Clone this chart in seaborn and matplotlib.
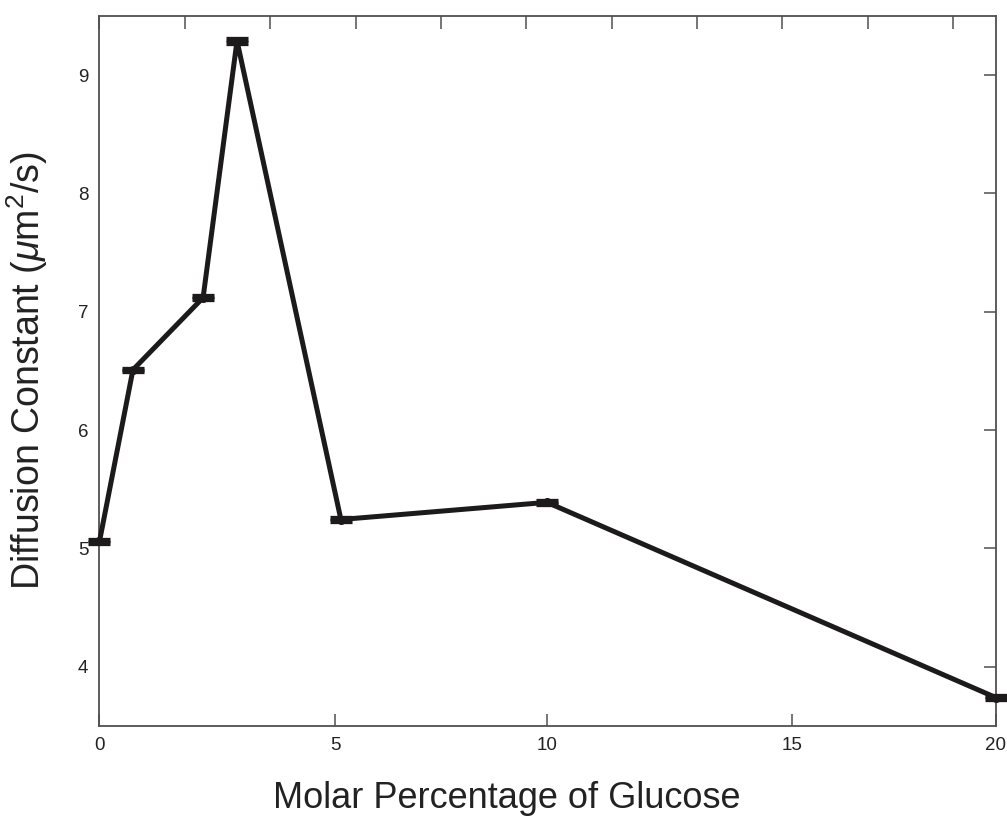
import numpy as np
import matplotlib
matplotlib.use("Agg")
import matplotlib.pyplot as plt
import seaborn as sns

# values
glucose = [0, 0.71, 2.2, 2.92, 5.14, 10, 20]
diffusion = [5.06, 6.51, 7.12, 9.29, 5.245, 5.39, 3.74]
diffusion_err = [0.01, 0.01, 0.01, 0.015, 0.01, 0.01, 0.01]
x_ticks = [0, 5, 10, 15, 20]
y_ticks = [4, 5, 6, 7, 8, 9]

# bottom axis of the original is not linear: knots of a piecewise scale
scale_in = np.array([0, 5, 10, 15, 20], float)
scale_out = np.array([0, 235.5, 447.5, 692.5, 896.5])


def fwd(x):
    x = np.asarray(x, float)
    y = np.interp(x, scale_in, scale_out)
    s0 = (scale_out[1] - scale_out[0]) / (scale_in[1] - scale_in[0])
    s1 = (scale_out[-1] - scale_out[-2]) / (scale_in[-1] - scale_in[-2])
    y = np.where(x < scale_in[0], scale_out[0] + (x - scale_in[0]) * s0, y)
    y = np.where(x > scale_in[-1], scale_out[-1] + (x - scale_in[-1]) * s1, y)
    return y


def inv(y):
    y = np.asarray(y, float)
    x = np.interp(y, scale_out, scale_in)
    s0 = (scale_in[1] - scale_in[0]) / (scale_out[1] - scale_out[0])
    s1 = (scale_in[-1] - scale_in[-2]) / (scale_out[-1] - scale_out[-2])
    x = np.where(y < scale_out[0], scale_in[0] + (y - scale_out[0]) * s0, x)
    x = np.where(y > scale_out[-1], scale_in[-1] + (y - scale_out[-1]) * s1, x)
    return x


sns.set_theme(style="white")
plt.rcParams['font.family'] = ['Liberation Sans', 'DejaVu Sans']
plt.rcParams['mathtext.fontset'] = 'custom'
plt.rcParams['mathtext.it'] = 'Liberation Sans:italic'
plt.rcParams['mathtext.rm'] = 'Liberation Sans'

line_col = '#1c1a1a'
axis_col = '#505050'

fig = plt.figure(figsize=(10.07, 8.16), dpi=100)
ax = fig.add_axes([0.0988, 0.1103, 0.8902, 0.8701])
ax.set_xscale('function', functions=(fwd, inv))

sns.lineplot(x=glucose, y=diffusion, ax=ax, color=line_col, linewidth=3.6,
             marker='o', markersize=6.5, markeredgewidth=0, sort=False,
             solid_joinstyle='miter', clip_on=False, zorder=3)
ax.errorbar(glucose, diffusion, yerr=diffusion_err, fmt='none', ecolor=line_col,
            elinewidth=2.5, capsize=8, capthick=3.8, clip_on=False, zorder=4)

ax.set_xlim(0, 20)
ax.set_ylim(3.5, 9.5)
ax.set_xticks(x_ticks)
ax.set_yticks(y_ticks)
ax.set_xticklabels([str(t) for t in x_ticks])
ax.set_yticklabels([str(t) for t in y_ticks])
ax.tick_params(axis='both', direction='in', length=9, width=1.1, color=axis_col,
               labelsize=13.5, labelcolor='#222222', pad=8,
               right=True, labelright=False)
for s in ax.spines.values():
    s.set_color(axis_col)
    s.set_linewidth(1.3)

# top axis carries its own evenly spaced ticks, no labels
top = ax.twiny()
top.set_xlim(0, 21)
top.set_xticks(np.arange(0, 21, 2))
top.tick_params(axis='x', direction='in', length=9, width=1.1, color=axis_col,
                labeltop=False, labelbottom=False, top=True, bottom=False)
for s in top.spines.values():
    s.set_visible(False)

ax.set_xlabel('Molar Percentage of Glucose', fontsize=26, color='#222222')
ax.xaxis.set_label_coords(0.454, -0.078)
ax.set_ylabel(r'Diffusion Constant ($\mu$m$^2$/s)', fontsize=27, color='#222222',
              labelpad=20)

fig.savefig('out.png', dpi=100)
